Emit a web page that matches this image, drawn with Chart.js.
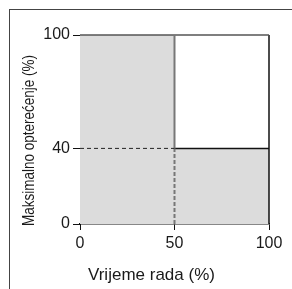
<!DOCTYPE html>
<html lang="hr">
<head>
  <meta charset="UTF-8">
  <title>Maksimalno opterećenje</title>
  <script src="https://cdn.jsdelivr.net/npm/chart.js"></script>
  <style>
    html, body {
      margin: 0;
      padding: 0;
      background: #fff;
      overflow: hidden;
    }
    #frame {
      position: absolute;
      left: 9px;
      top: 9px;
      width: 400px;
      height: 400px;
      border-top: 1px solid #444;
      border-left: 1px solid #444;
    }
    #chart-container {
      position: absolute;
      left: 0;
      top: 0;
      width: 292px;
      height: 289px;
    }
  </style>
</head>
<body>
  <div id="frame"></div>
  <div id="chart-container">
    <canvas id="loadChart" width="292" height="289"></canvas>
  </div>

  <script>
    // Tick values
    const xTicks = [0, 50, 100];
    const yTicks = [0, 40, 100];

    // Shaded (allowed) region outline, filled down to 0
    const shadeX = [0, 50, 50, 100];
    const shadeY = [100, 100, 40, 40];

    // Guide lines
    const dashHX = [0, 50],   dashHY = [40, 40];
    const dashVX = [50, 50],  dashVY = [0, 40];
    const upperVX = [50, 50], upperVY = [40, 100];
    const topX = [0, 100],    topY = [100, 100];
    const stepX = [50, 100],  stepY = [40, 40];
    const rightX = [100, 100], rightY = [0, 100];

    const xTitle = "Vrijeme rada (%)";
    const yTitle = "Maksimalno opterećenje (%)";

    function pts(xs, ys) {
      return xs.map((x, i) => ({ x: x, y: ys[i] }));
    }

    function line(xs, ys, color, width, dash) {
      return {
        data: pts(xs, ys),
        showLine: true,
        borderColor: color,
        borderWidth: width,
        borderDash: dash || [],
        pointRadius: 0,
        fill: false,
        clip: false,
        order: 0
      };
    }

    // Axis titles drawn by hand so they can sit where the original has them
    const titlePlugin = {
      id: "axisTitles",
      afterDraw(chart) {
        const ctx = chart.ctx;
        ctx.save();
        ctx.fillStyle = "#1a1a1a";
        ctx.textBaseline = "alphabetic";
        ctx.textAlign = "left";
        ctx.font = '17px "Liberation Sans", Arial, sans-serif';
        ctx.fillText(xTitle, 88, 280);

        ctx.font = '17px "Liberation Sans Narrow", "Liberation Sans", Arial, sans-serif';
        const w = ctx.measureText(yTitle).width;
        const target = 171;
        ctx.translate(34, 226);
        ctx.rotate(-Math.PI / 2);
        ctx.scale(target / w, 1);
        ctx.fillText(yTitle, 0, 0);
        ctx.restore();
      }
    };

    const ctx = document.getElementById("loadChart").getContext("2d");

    new Chart(ctx, {
      type: "scatter",
      data: {
        datasets: [
          line(dashHX, dashHY, "#222", 1, [4, 3]),
          line(dashVX, dashVY, "#777", 2, [4, 2]),
          line(upperVX, upperVY, "#777", 2),
          line(topX, topY, "#555", 1.5),
          line(stepX, stepY, "#111", 1.5),
          line(rightX, rightY, "#111", 1.5),
          {
            data: pts(shadeX, shadeY),
            showLine: true,
            borderWidth: 0,
            borderColor: "rgba(0,0,0,0)",
            backgroundColor: "#dcdcdc",
            pointRadius: 0,
            fill: "origin",
            order: 5
          }
        ]
      },
      options: {
        responsive: false,
        animation: false,
        layout: {
          padding: { left: 0, top: 35, right: 23, bottom: 0 }
        },
        plugins: {
          legend: { display: false },
          tooltip: { enabled: false }
        },
        scales: {
          x: {
            type: "linear",
            min: 0,
            max: 100,
            afterBuildTicks: (scale) => {
              scale.ticks = xTicks.map(v => ({ value: v }));
            },
            afterFit: (scale) => { scale.height = 65; },
            grid: {
              drawOnChartArea: false,
              drawTicks: true,
              tickLength: 6,
              color: "#111"
            },
            border: { color: "#111", width: 1.5 },
            ticks: {
              color: "#1a1a1a",
              padding: 4,
              maxRotation: 0,
              font: { family: '"Liberation Sans", Arial, sans-serif', size: 16 }
            }
          },
          y: {
            type: "linear",
            min: 0,
            max: 100,
            afterBuildTicks: (scale) => {
              scale.ticks = yTicks.map(v => ({ value: v }));
            },
            afterFit: (scale) => { scale.width = 80; },
            grid: {
              drawOnChartArea: false,
              drawTicks: true,
              tickLength: 7,
              color: "#111"
            },
            border: { color: "#111", width: 1 },
            ticks: {
              color: "#1a1a1a",
              padding: 3,
              font: { family: '"Liberation Sans", Arial, sans-serif', size: 16 }
            }
          }
        }
      },
      plugins: [titlePlugin]
    });
  </script>
</body>
</html>
